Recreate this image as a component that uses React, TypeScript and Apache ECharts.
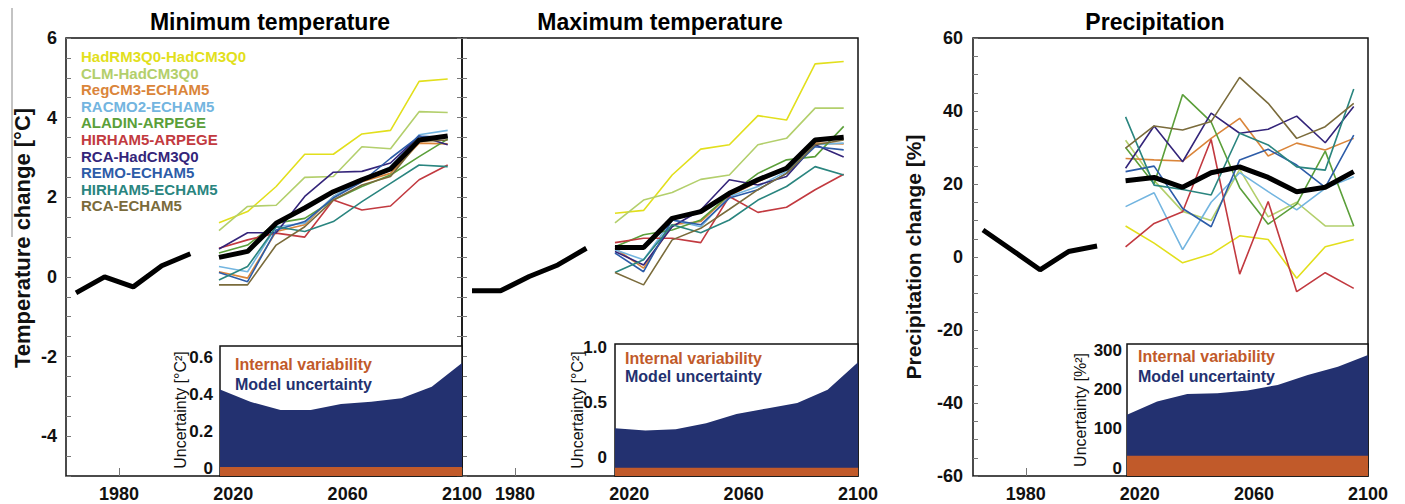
import React, { useEffect, useRef } from "react";
import * as echarts from "echarts";

const futureYears = [2015, 2025, 2035, 2045, 2055, 2065, 2075, 2085, 2095];
const histYears = [1965, 1975, 1985, 1995, 2005];
const xTickLabels = [1980, 2020, 2060, 2100];

const modelNames = [
  "HadRM3Q0-HadCM3Q0",
  "CLM-HadCM3Q0",
  "RegCM3-ECHAM5",
  "RACMO2-ECHAM5",
  "ALADIN-ARPEGE",
  "HIRHAM5-ARPEGE",
  "RCA-HadCM3Q0",
  "REMO-ECHAM5",
  "HIRHAM5-ECHAM5",
  "RCA-ECHAM5",
];
const modelColors = [
  "#e2df1c",
  "#b3cf6c",
  "#da853a",
  "#73b5e0",
  "#5b9f3a",
  "#c23a40",
  "#34257a",
  "#2d5ca8",
  "#2a857f",
  "#7a6b3b",
];

// Minimum temperature change [°C]
const tminModels = [
  [1.36, 1.64, 2.27, 3.08, 3.08, 3.59, 3.68, 4.91, 4.97],
  [1.16, 1.77, 1.8, 2.5, 2.52, 3.27, 3.22, 4.15, 4.13],
  [0.13, -0.03, 1.14, 1.31, 2.02, 2.39, 2.6, 3.36, 3.34],
  [0.26, 0.13, 1.26, 1.35, 2.02, 2.44, 2.77, 3.57, 3.68],
  [0.6, 0.8, 1.35, 1.47, 1.93, 2.27, 2.56, 3.02, 3.46],
  [0.72, 0.93, 1.1, 1.0, 1.93, 1.68, 1.78, 2.44, 2.81],
  [0.7, 1.11, 1.11, 2.02, 2.63, 2.65, 2.86, 3.54, 3.32],
  [0.11, -0.12, 1.18, 1.39, 1.98, 2.39, 2.98, 3.53, 3.51],
  [-0.08, 0.26, 1.26, 1.14, 1.39, 1.89, 2.35, 2.81, 2.77],
  [-0.2, -0.2, 0.8, 1.26, 1.93, 2.31, 2.52, 3.4, 3.44],
];
const tminMean = [0.49, 0.64, 1.35, 1.73, 2.14, 2.44, 2.71, 3.44, 3.54];
const tminHist = [-0.4, 0.0, -0.25, 0.28, 0.58];

// Maximum temperature change [°C]
const tmaxModels = [
  [1.6, 1.67, 2.56, 3.21, 3.32, 4.05, 3.94, 5.35, 5.41],
  [1.36, 1.93, 2.12, 2.45, 2.56, 3.32, 3.48, 4.24, 4.24],
  [0.72, 0.22, 1.31, 1.39, 2.04, 2.39, 2.73, 3.36, 3.34],
  [0.68, 0.43, 1.43, 1.26, 2.02, 2.27, 2.65, 3.32, 3.36],
  [0.76, 1.06, 1.18, 1.43, 2.06, 2.6, 2.94, 3.02, 3.78],
  [0.86, 0.97, 0.97, 0.86, 2.02, 1.62, 1.75, 2.19, 2.58],
  [0.64, 0.3, 1.26, 1.68, 2.44, 2.31, 2.52, 3.32, 3.01],
  [0.6, 0.13, 1.43, 1.31, 1.98, 2.19, 2.6, 3.27, 3.19],
  [0.11, 0.43, 1.31, 1.11, 1.43, 1.93, 2.27, 2.77, 2.56],
  [0.11, -0.2, 0.93, 1.22, 1.7, 2.19, 2.6, 3.32, 3.44],
];
const tmaxMean = [0.74, 0.74, 1.47, 1.64, 2.1, 2.44, 2.73, 3.44, 3.51];
const tmaxHist = [-0.35, -0.35, 0.01, 0.3, 0.72];

// Precipitation change [%]
const precModels = [
  [8.5, 3.8, -1.6, 0.8, 5.8, 4.8, -5.8, 2.8, 4.8],
  [32, 21, 12.5, 10, 24, 11, 15, 8.5, 8.5],
  [27.0, 26.6, 26.3, 32.5, 38.0, 27.7, 31.2, 29.3, 32.5],
  [13.8, 17.6, 2.0, 15, 23.1, 17.9, 12.9, 18.8, 22],
  [30, 20, 44.5, 37, 19, 9, 14.5, 29, 8.5],
  [2.8, 9.2, 12.4, 32.2, -4.7, 15.2, -9.5, -4.3, -8.6],
  [24.3, 35.9, 26.1, 39.4, 33.9, 35.0, 38.6, 31.3, 41.2],
  [23.4, 24.9, 13.3, 8.3, 26.6, 29.5, 25.2, 19.1, 33.4],
  [38.4, 19.7, 18.5, 17.0, 33.9, 30.7, 24.7, 23.8, 46],
  [29.8, 35.9, 34.8, 37.1, 49.2, 42.1, 32.5, 35.7, 42.1],
];
const precMean = [20.9, 21.8, 19.1, 23.1, 24.7, 21.8, 17.9, 19.1, 23.4];
const precHist = [7.4, 2.0, -3.5, 1.5, 3.0];

// Uncertainty insets
const insetPeriods = ["P1", "P2", "P3", "P4", "P5", "P6", "P7", "P8", "P9"];
const tminModelUnc = [0.425, 0.358, 0.314, 0.314, 0.346, 0.358, 0.378, 0.44, 0.568];
const tminInternal = [0.005, 0.005, 0.005, 0.005, 0.005, 0.005, 0.005, 0.005, 0.005];
const tmaxModelUnc = [0.27, 0.25, 0.26, 0.315, 0.4, 0.45, 0.5, 0.62, 0.87];
const tmaxInternal = [-0.09, -0.09, -0.09, -0.09, -0.09, -0.09, -0.09, -0.09, -0.09];
const precModelUnc = [136, 170, 189, 191, 198, 212, 237, 258, 288];
const precInternal = [32, 32, 32, 32, 32, 32, 32, 32, 32];

const tempTickLabels = [-4, -2, 0, 2, 4, 6];
const precTickLabels = [-60, -40, -20, 0, 20, 40, 60];
const inset1Labels = [0, 0.2, 0.4, 0.6];
const inset2Labels = [0, 0.5, 1.0];
const inset3Labels = [0, 100, 200, 300];

const FONT = "Liberation Sans, Arial, Helvetica, sans-serif";
const NAVY = "#233170";
const ORANGE = "#c15a2a";
const TICK = "#777";

function pairs(xs: number[], ys: number[]) {
  return xs.map((x, i) => [x, ys[i]]);
}

function panelSeries(idx: number, models: number[][], mean: number[], hist: number[]) {
  const yi = idx === 0 ? 0 : idx === 1 ? 2 : 3;
  const s: any[] = models.map((vals, i) => ({
    type: "line",
    name: modelNames[i],
    xAxisIndex: idx,
    yAxisIndex: yi,
    data: pairs(futureYears, vals),
    symbol: "none",
    lineStyle: { color: modelColors[i], width: 1.6 },
    itemStyle: { color: modelColors[i] },
    z: 3,
  }));
  s.push({
    type: "line",
    name: "mean" + idx,
    xAxisIndex: idx,
    yAxisIndex: yi,
    data: pairs(futureYears, mean),
    symbol: "none",
    lineStyle: { color: "#000", width: 5 },
    z: 5,
  });
  s.push({
    type: "line",
    name: "hist" + idx,
    xAxisIndex: idx,
    yAxisIndex: yi,
    data: pairs(histYears, hist),
    symbol: "none",
    lineStyle: { color: "#000", width: 5 },
    z: 5,
  });
  return s;
}

function insetSeries(xi: number, yi: number, model: number[], internal: number[]) {
  return [
    {
      type: "line",
      xAxisIndex: xi,
      yAxisIndex: yi,
      data: model,
      symbol: "none",
      lineStyle: { width: 0, color: NAVY },
      areaStyle: { color: NAVY, opacity: 1, origin: "start" },
      z: 6,
    },
    {
      type: "line",
      xAxisIndex: xi,
      yAxisIndex: yi,
      data: internal,
      symbol: "none",
      lineStyle: { width: 0, color: ORANGE },
      areaStyle: { color: ORANGE, opacity: 1, origin: "start" },
      z: 7,
    },
  ];
}

const axisLabelStyle = { fontFamily: FONT, fontWeight: "bold", fontSize: 18, color: "#111" };

function mainXAxis(gridIndex: number) {
  return {
    type: "value",
    gridIndex,
    min: 1961.5,
    max: 2100,
    axisLine: { show: false, onZero: false },
    splitLine: { show: false },
    axisTick: {
      show: true,
      inside: true,
      length: 8,
      customValues: xTickLabels,
      lineStyle: { color: TICK, width: 1 },
    },
    axisLabel: {
      show: true,
      margin: 9,
      customValues: xTickLabels,
      formatter: (v: number) => String(v),
      ...axisLabelStyle,
    },
  };
}

function insetXAxis(gridIndex: number) {
  return {
    type: "category",
    gridIndex,
    data: insetPeriods,
    boundaryGap: false,
    show: false,
  };
}

function tempY(gridIndex: number, position: string, labels: boolean) {
  return {
    type: "value",
    gridIndex,
    position,
    min: -5,
    max: 6,
    interval: 0.5,
    axisLine: { show: false, onZero: false },
    splitLine: { show: false },
    axisTick: { show: true, inside: true, length: 5, lineStyle: { color: TICK } },
    axisLabel: labels
      ? { show: true, margin: 9, customValues: tempTickLabels, formatter: (v: number) => String(v), ...axisLabelStyle }
      : { show: false },
  };
}

export default function App() {
  const ref = useRef<HTMLDivElement>(null);

  useEffect(() => {
    if (!ref.current) return;
    const chart = echarts.init(ref.current, null, { renderer: "svg" });

    const gridBase = { show: true, borderColor: "#111", borderWidth: 1.5, containLabel: false };

    const legendTexts = modelNames.map((n, i) => ({
      type: "text",
      left: 81,
      top: 57 + i * 16.6 - 8,
      style: {
        text: n,
        fill: modelColors[i],
        font: `bold 15px ${FONT}`,
      },
      z: 20,
    }));

    const insetLegend = (x: number, y1: number, y2: number) => [
      {
        type: "text",
        left: x,
        top: y1 - 9,
        style: { text: "Internal variability", fill: ORANGE, font: `bold 16px ${FONT}` },
        z: 30,
      },
      {
        type: "text",
        left: x,
        top: y2 - 9,
        style: { text: "Model uncertainty", fill: NAVY, font: `bold 16px ${FONT}` },
        z: 30,
      },
    ];

    const rotText = (text: string, x: number, y: number, size: number, bold: boolean) => ({
      type: "text",
      x,
      y,
      rotation: Math.PI / 2,
      style: {
        text,
        fill: "#111",
        font: `${bold ? "bold " : ""}${size}px ${FONT}`,
        textAlign: "center",
        textVerticalAlign: "middle",
      },
      z: 30,
    });

    const titleText = (text: string, x: number) => ({
      type: "text",
      x,
      y: 22,
      style: {
        text,
        fill: "#000",
        font: `bold 23px ${FONT}`,
        textAlign: "center",
        textVerticalAlign: "middle",
      },
      z: 30,
    });

    const option: any = {
      animation: false,
      backgroundColor: "#fff",
      textStyle: { fontFamily: FONT },
      grid: [
        { ...gridBase, left: 66, top: 38, width: 396, height: 438 },
        { ...gridBase, left: 462, top: 38, width: 396, height: 438 },
        { ...gridBase, left: 973, top: 38, width: 395, height: 438 },
        { ...gridBase, left: 220, top: 346, width: 242, height: 130, backgroundColor: "#fff", z: 4 },
        { ...gridBase, left: 615, top: 344, width: 243, height: 132, backgroundColor: "#fff", z: 4 },
        { ...gridBase, left: 1127, top: 344, width: 241, height: 132, backgroundColor: "#fff", z: 4 },
      ],
      xAxis: [
        mainXAxis(0),
        mainXAxis(1),
        mainXAxis(2),
        insetXAxis(3),
        insetXAxis(4),
        insetXAxis(5),
      ],
      yAxis: [
        tempY(0, "left", true),
        tempY(0, "right", false),
        tempY(1, "left", false),
        {
          type: "value",
          gridIndex: 2,
          min: -60,
          max: 60,
          interval: 5,
          axisLine: { show: false, onZero: false },
          splitLine: { show: false },
          axisTick: { show: true, inside: true, length: 5, lineStyle: { color: TICK } },
          axisLabel: { show: true, margin: 10, customValues: precTickLabels, formatter: (v: number) => String(v), ...axisLabelStyle },
        },
        {
          type: "value",
          gridIndex: 3,
          min: -0.043,
          max: 0.66,
          axisLine: { show: false, onZero: false },
          splitLine: { show: false },
          axisTick: { show: false },
          axisLabel: {
            show: true,
            margin: 7,
            customValues: inset1Labels,
            formatter: (v: number) => (v === 0 ? "0" : v.toFixed(1)),
            ...axisLabelStyle,
            fontSize: 17,
          },
        },
        {
          type: "value",
          gridIndex: 4,
          min: -0.164,
          max: 1.036,
          axisLine: { show: false, onZero: false },
          splitLine: { show: false },
          axisTick: { show: false },
          axisLabel: {
            show: true,
            margin: 8,
            customValues: inset2Labels,
            formatter: (v: number) => (v === 0 ? "0" : v.toFixed(1)),
            ...axisLabelStyle,
            fontSize: 17,
          },
        },
        {
          type: "value",
          gridIndex: 5,
          min: -19.6,
          max: 316,
          axisLine: { show: false, onZero: false },
          splitLine: { show: false },
          axisTick: { show: false },
          axisLabel: {
            show: true,
            margin: 5,
            customValues: inset3Labels,
            formatter: (v: number) => String(v),
            ...axisLabelStyle,
            fontSize: 17,
          },
        },
      ],
      series: [
        ...panelSeries(0, tminModels, tminMean, tminHist),
        ...panelSeries(1, tmaxModels, tmaxMean, tmaxHist),
        ...panelSeries(2, precModels, precMean, precHist),
        ...insetSeries(3, 4, tminModelUnc, tminInternal),
        ...insetSeries(4, 5, tmaxModelUnc, tmaxInternal),
        ...insetSeries(5, 6, precModelUnc, precInternal),
      ],
      graphic: [
        titleText("Minimum temperature", 270),
        titleText("Maximum temperature", 660),
        titleText("Precipitation", 1155),
        rotText("Temperature change [°C]", 22, 238, 22, true),
        rotText("Precipitation change [%]", 913, 257, 21, true),
        rotText("Uncertainty [°C²]", 180, 410, 16, false),
        rotText("Uncertainty [°C²]", 577, 410, 16, false),
        rotText("Uncertainty [%²]", 1080, 410, 16, false),
        ...legendTexts,
        ...insetLegend(235, 365, 385),
        ...insetLegend(625, 359, 377),
        ...insetLegend(1138, 357, 377),
        {
          type: "line",
          shape: { x1: 12, y1: 8, x2: 12, y2: 237 },
          style: { stroke: "#888", lineWidth: 1 },
          z: 1,
        },
      ],
    };

    chart.setOption(option);
    return () => chart.dispose();
  }, []);

  return (
    <div
      ref={ref}
      style={{ position: "absolute", left: 0, top: 0, width: 1405, height: 504, background: "#fff" }}
    />
  );
}
